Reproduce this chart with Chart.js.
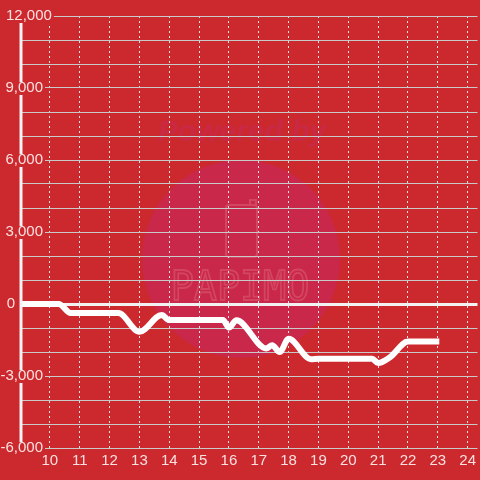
<!DOCTYPE html>
<html>
<head>
<meta charset="utf-8">
<script src="https://cdn.jsdelivr.net/npm/chart.js@4"></script>
<style>
  html, body { margin: 0; padding: 0; background: #cc292e; }
  #wrap { width: 480px; height: 480px; }
</style>
</head>
<body>
<div id="wrap"><canvas id="chart"></canvas></div>
<script>
// data
const xVals = [9, 10.3, 10.7, 12.3, 13, 13.75, 14, 15.8, 16, 16.25, 17.25, 17.45, 17.7, 18, 18.75, 19, 20.8, 21, 21.4, 22, 23.05];
const yVals = [0, 0, -380, -380, -1160, -460, -670, -670, -980, -680, -1850, -1720, -2000, -1450, -2300, -2280, -2280, -2460, -2220, -1560, -1560];
const xTicks = [10, 11, 12, 13, 14, 15, 16, 17, 18, 19, 20, 21, 22, 23, 24];
const yGridTicks = [-6000, -5000, -4000, -3000, -2000, -1000, 0, 1000, 2000, 3000, 4000, 5000, 6000, 7000, 8000, 9000, 10000, 11000, 12000];
const yLabels = [12000, 9000, 6000, 3000, 0, -3000, -6000];

const BG = '#cc292e';
const TXT = 'rgba(255,240,240,0.92)';
const FAMILY = '"Liberation Sans", Arial, sans-serif';

// faint "Powered by PAPIMO" mark behind the grid
const watermark = {
    id: 'watermark',
    beforeDraw(chart) {
        const ctx = chart.ctx;
        ctx.save();
        ctx.fillStyle = '#c9284a';
        ctx.beginPath();
        ctx.arc(241, 259, 99, 0, Math.PI * 2);
        ctx.fill();
        ctx.font = 'italic bold 30px ' + FAMILY;
        ctx.textAlign = 'center';
        ctx.textBaseline = 'middle';
        ctx.fillStyle = '#c92943';
        ctx.fillText('Powered by', 242, 133);
        ctx.strokeStyle = 'rgba(255,190,190,0.2)';
        ctx.lineWidth = 2;
        ctx.beginPath();
        ctx.roundRect(226, 205, 31, 52, 3);
        ctx.moveTo(250, 205);
        ctx.lineTo(250, 200);
        ctx.lineTo(256, 200);
        ctx.lineTo(256, 205);
        ctx.stroke();
        ctx.save();
        ctx.translate(240, 289);
        ctx.scale(1.2, 1.3);
        ctx.font = '32px "DejaVu Sans Mono", monospace';
        ctx.lineWidth = 1.4;
        ctx.strokeText('PAPIMO', 0, 0);
        ctx.restore();
        ctx.restore();
    }
};

// y axis line with labels drawn on top of it
const yAxisLabels = {
    id: 'yAxisLabels',
    afterDraw(chart) {
        const ctx = chart.ctx;
        const y = chart.scales.y;
        ctx.save();
        ctx.strokeStyle = '#f2f2f2';
        ctx.lineWidth = 3;
        ctx.beginPath();
        ctx.moveTo(21, y.top + 6);
        ctx.lineTo(21, y.bottom - 6);
        ctx.stroke();
        ctx.font = '15px ' + FAMILY;
        ctx.textBaseline = 'middle';
        yLabels.forEach(v => {
            const py = y.getPixelForValue(v);
            const txt = v.toLocaleString('en-US');
            const w = ctx.measureText(txt).width;
            let left;
            if (v === 0) left = 15 - w;
            else if (v > 0 && txt.length > 5) left = 6;
            else left = 43 - w;
            ctx.fillStyle = BG;
            ctx.fillRect(left - 2, py - 6, w + 4, 13);
            ctx.fillStyle = TXT;
            ctx.textAlign = 'left';
            ctx.fillText(txt, left, py);
        });
        ctx.restore();
    }
};

new Chart(document.getElementById('chart'), {
    type: 'line',
    data: {
        datasets: [{
            data: xVals.map((x, i) => ({ x: x, y: yVals[i] })),
            borderColor: '#ffffff',
            borderWidth: 6,
            pointRadius: 0,
            cubicInterpolationMode: 'monotone',
            borderJoinStyle: 'round',
            borderCapStyle: 'butt'
        }]
    },
    options: {
        responsive: true,
        maintainAspectRatio: false,
        animation: false,
        events: [],
        layout: { padding: { top: 16, right: 0, left: 0, bottom: 0 } },
        plugins: { legend: { display: false }, tooltip: { enabled: false } },
        scales: {
            x: {
                type: 'linear',
                min: 9,
                max: 24.33,
                afterBuildTicks: s => { s.ticks = xTicks.map(v => ({ value: v })); },
                afterFit: s => { s.height = 32; },
                grid: { color: 'rgba(255,255,255,0.85)', lineWidth: 1, drawTicks: false },
                border: { display: false, dash: [2, 3] },
                ticks: { color: TXT, font: { family: FAMILY, size: 15 }, padding: 4, maxRotation: 0 }
            },
            y: {
                min: -6000,
                max: 12000,
                afterBuildTicks: s => { s.ticks = yGridTicks.map(v => ({ value: v })); },
                afterFit: s => { s.width = 20; },
                ticks: { display: false },
                grid: {
                    drawTicks: false,
                    color: c => c.tick && c.tick.value === 0 ? '#f2f2f2' : '#c9c9c9',
                    lineWidth: c => c.tick && c.tick.value === 0 ? 3 : 1
                },
                border: { display: false }
            }
        }
    },
    plugins: [watermark, yAxisLabels]
});
</script>
</body>
</html>
